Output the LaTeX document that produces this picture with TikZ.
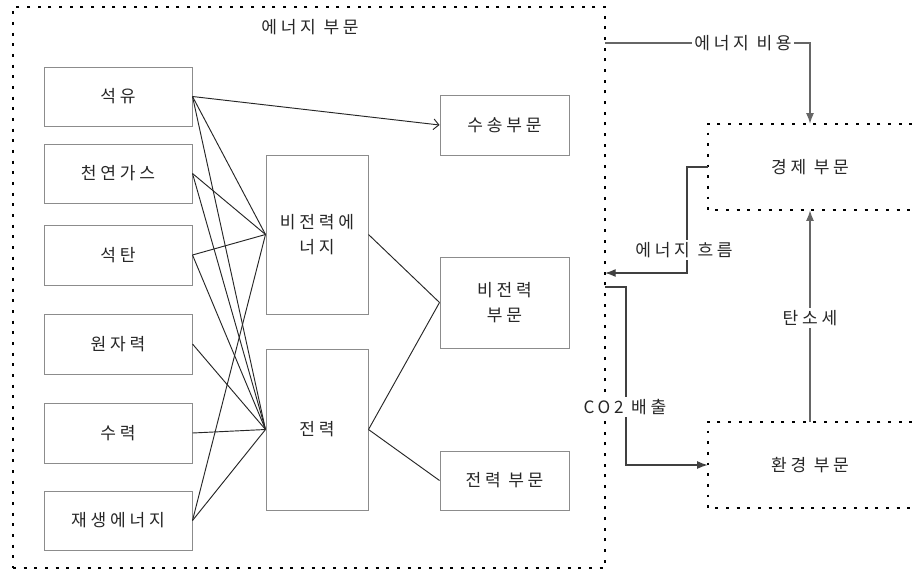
\documentclass[tikz,border=0pt]{standalone}
\usepackage{fontspec}
\setmainfont{Noto Sans CJK KR}[LetterSpace=22]
\usetikzlibrary{arrows.meta}
\begin{document}
\begin{tikzpicture}[x=0.75pt,y=-0.75pt,
  font=\fontsize{12.8pt}{19pt}\selectfont,
  sbox/.style={draw=black!45,line width=0.75pt,text=black!85,align=center,inner sep=0pt},
  dotbox/.style={draw=black,line width=1.4pt,dash pattern=on 2.2pt off 5.8pt},
  fan/.style={draw=black!85,line width=0.7pt},
  conn/.style={draw=black!60,line width=1pt},
  tip/.style={-{Latex[length=8pt,width=6pt]}},
  lbl/.style={fill=white,text=black!85,inner sep=2pt}
]
\useasboundingbox[fill=white] (0,0) rectangle (912,571);

% energy sector frame
\node[dotbox,minimum width=444pt,minimum height=420.75pt,inner sep=0pt] (energy) at (309,287.5) {};
\node[text=black!85] (title) at (310,27) {에너지 부문};

% sources
\node[sbox,minimum width=111pt,minimum height=44.25pt] (oil)   at (118,96.5)  {석유};
\node[sbox,minimum width=111pt,minimum height=44.25pt] (gas)   at (118,173.5) {천연가스};
\node[sbox,minimum width=111pt,minimum height=45pt]    (coal)  at (118,255)   {석탄};
\node[sbox,minimum width=111pt,minimum height=45pt]    (nuc)   at (118,344)   {원자력};
\node[sbox,minimum width=111pt,minimum height=45pt]    (hydro) at (118,433)   {수력};
\node[sbox,minimum width=111pt,minimum height=44.25pt] (ren)   at (118,520.5) {재생에너지};

% conversion
\node[sbox,minimum width=76.5pt,minimum height=119.25pt] (nonel) at (317,234.5) {비전력에\\너지};
\node[sbox,minimum width=76.5pt,minimum height=120.75pt] (elec)  at (317,429.5) {전력};

% end use
\node[sbox,minimum width=96.75pt,minimum height=45pt]    (trans)    at (504.5,125)   {수송부문};
\node[sbox,minimum width=96.75pt,minimum height=68.25pt] (nonelsec) at (504.5,302.5) {비전력\\부문};
\node[sbox,minimum width=96.75pt,minimum height=44.25pt] (elecsec)  at (504.5,480.5) {전력 부문};

% fan lines
\draw[fan,-{Straight Barb[length=4pt,width=8pt]}] (oil.east) -- (trans.west);
\draw[fan] (oil.east) -- (nonel.west);
\draw[fan] (oil.east) -- (elec.west);
\draw[fan] (gas.east) -- (nonel.west);
\draw[fan] (gas.east) -- (elec.west);
\draw[fan] (coal.east) -- (nonel.west);
\draw[fan] (coal.east) -- (elec.west);
\draw[fan] (nuc.east) -- (elec.west);
\draw[fan] (hydro.east) -- (elec.west);
\draw[fan] (ren.east) -- (nonel.west);
\draw[fan] (ren.east) -- (elec.west);
\draw[fan] (nonel.east) -- (nonelsec.west);
\draw[fan] (elec.east) -- (nonelsec.west);
\draw[fan] (elec.east) -- (elecsec.west);

% economy and environment
\node[minimum width=153pt,minimum height=64.5pt,text=black!85,inner sep=0pt] (econ) at (810,167) {경제 부문};
\node[minimum width=153pt,minimum height=64.5pt,text=black!85,inner sep=0pt] (env)  at (810,465) {환경 부문};
\draw[dotbox] (econ.north east) -- (econ.north west) -- (econ.south west) -- (econ.south east);
\draw[dotbox] (env.north east) -- (env.north west) -- (env.south west) -- (env.south east);

\coordinate (c1) at (605,43);
\coordinate (c2) at (605,273);
\coordinate (c3) at (605,287);

\draw[conn,tip] (c1) -- (810,43) -- (econ.north);
\draw[conn,draw=black!75,tip] (econ.west) -- (687,167) -- (687,273) -- (c2);
\draw[conn,draw=black!75,tip] (c3) -- (626,287) -- (626,465) -- (env.west);
\draw[conn,tip] (env.north) -- (econ.south);

\node[lbl] (l1) at (743,43)  {에너지 비용};
\node[lbl] (l2) at (684,250) {에너지 흐름};
\node[lbl] (l3) at (625,407) {CO2 배출};
\node[lbl] (l4) at (810,318) {탄소세};
\end{tikzpicture}
\end{document}
